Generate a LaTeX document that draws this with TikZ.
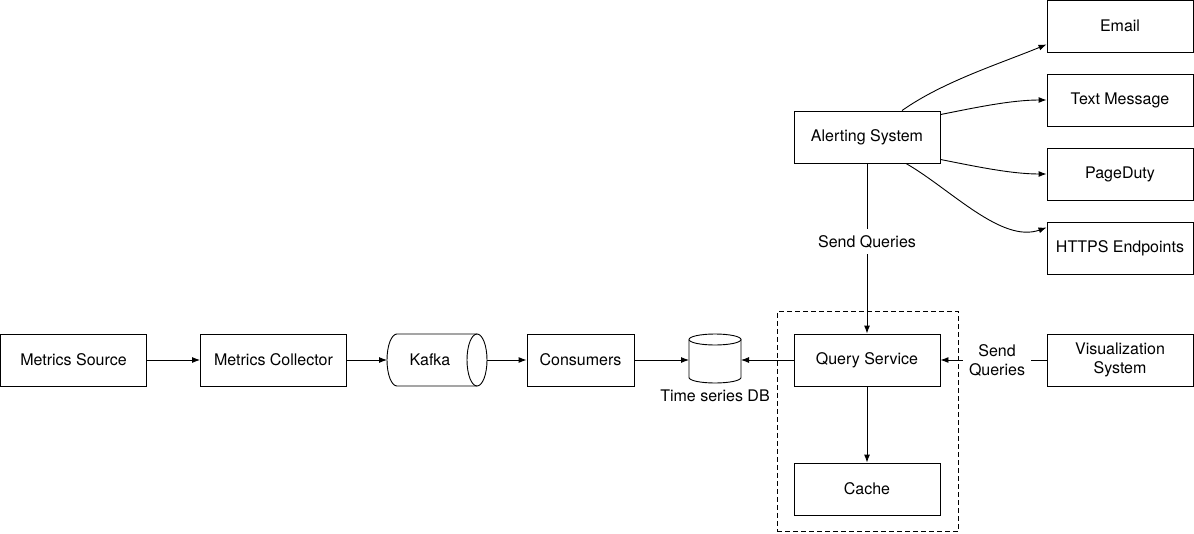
\documentclass[tikz,border=0pt]{standalone}
\usepackage{fontspec}
\setmainfont{TeX Gyre Heros}
\usetikzlibrary{arrows.meta,calc}
\begin{document}
\begin{tikzpicture}[x=1pt,y=-1pt,
  every node/.style={font=\fontsize{16}{19}\selectfont},
  box/.style={draw, line width=0.9pt, minimum width=146pt, minimum height=52pt, inner sep=0pt, align=center},
  anchorbox/.style={inner sep=0pt, outer sep=0pt},
  conn/.style={line width=0.9pt, -{Latex[length=8pt,width=6pt]}},
  lbl/.style={fill=white, inner sep=6pt, align=center},
  groupbox/.style={draw, line width=0.9pt, dash pattern=on 5pt off 3pt, inner sep=0pt}]
\useasboundingbox (0,0) rectangle (1194,533);

% group
\node[groupbox, minimum width=181pt, minimum height=220.5pt] (group) at (867.5,421.5) {};

% boxes
\node[box] (src) at (73.5,360) {Metrics Source};
\node[box] (coll) at (273.5,360) {Metrics Collector};
\node[box, minimum width=107pt] (cons) at (580.5,360) {Consumers};
\node[box] (query) at (867,360) {Query Service};
\node[box] (cache) at (867,489) {Cache};
\node[box] (vis) at (1120,360) {Visualization\\System};
\node[box] (alert) at (867,137) {Alerting System};
\node[box] (email) at (1120,26) {Email};
\node[box] (text) at (1120,100) {Text Message};
\node[box] (page) at (1120,174) {PageDuty};
\node[box] (https) at (1120,248) {HTTPS Endpoints};

% Kafka cylinder
\node[anchorbox, minimum width=100pt, minimum height=52pt] (kafka) at (437,360) {};
\draw[line width=0.9pt] (477,334) -- (397,334)
  arc[start angle=270, end angle=90, x radius=10, y radius=26] -- (477,386);
\draw[line width=0.9pt] (477,360) ellipse[x radius=10, y radius=26];
\node (kafkatext) at (430,360) {Kafka};

% Time series DB cylinder
\node[anchorbox, minimum width=52pt, minimum height=50pt] (db) at (715,359) {};
\draw[line width=0.9pt] (689,339.5) -- (689,377.5)
  arc[start angle=180, end angle=0, x radius=26, y radius=5.5] -- (741,339.5);
\draw[line width=0.9pt] (715,339.5) ellipse[x radius=26, y radius=5.5];
\node (dblabel) at (715,396) {Time series DB};

% connectors
\draw[conn] (src.east) -- (coll.west);
\draw[conn] (coll.east) -- (kafka.west);
\draw[conn] (kafka.east) -- (cons.west);
\draw[conn] (cons.east) -- (cons.east -| db.west);
\draw[conn] (query.west) -- (query.west -| db.east);
\draw[conn] (query.south) -- (cache.north);
\draw[conn] (alert.south) -- node[lbl, pos=0.46] {Send Queries} (query.north);
\draw[conn] (vis.west) -- node[lbl, pos=0.467] {Send\\Queries} (query.east);

% alert fan-out
\draw[conn] ($(alert.north)+(35,0)$) .. controls +(41,-29) and +(-46,19) .. ($(email.south west)+(0,-8)$);
\draw[conn] ($(alert.north east)+(0,4)$) .. controls +(35,-7) and +(-35,0) .. (text.west);
\draw[conn] ($(alert.south east)+(0,-4)$) .. controls +(35,7) and +(-35,0) .. (page.west);
\draw[conn] ($(alert.south)+(39,0)$) .. controls +(45,26) and +(-45,16) .. ($(https.north west)+(0,6)$);
\end{tikzpicture}
\end{document}
